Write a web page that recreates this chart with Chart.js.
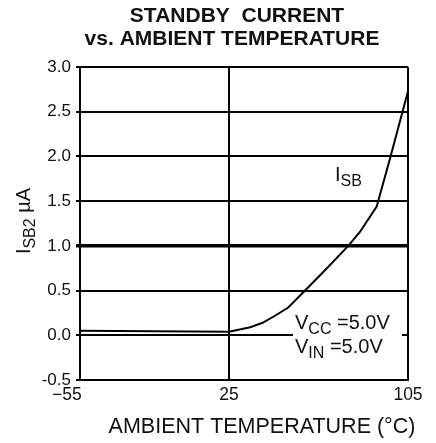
<!DOCTYPE html>
<html>
<head>
<meta charset="utf-8">
<script src="https://cdn.jsdelivr.net/npm/chart.js@4/dist/chart.umd.min.js"></script>
<style>
  html, body { margin: 0; padding: 0; background: #fff; }
  #wrap { width: 436px; height: 443px; }
</style>
</head>
<body>
<div id="wrap"><canvas id="c" width="436" height="443"></canvas></div>
<script>
// ---- data ----
const temperatures = [-55, -15, 25, 34.5, 40, 45, 51.5, 59, 68, 78.3, 83.5, 91, 97, 105];
const isbValues    = [0.05, 0.045, 0.04, 0.09, 0.14, 0.21, 0.31, 0.50, 0.73, 1.00, 1.155, 1.44, 1.98, 2.73];
const xTickValues  = [-55, 25, 105];
const xTickLabels  = ['\u221255\u2003\u2002', '25', '105'];
const yTickValues  = [-0.5, 0, 0.5, 1.0, 1.5, 2.0, 2.5, 3.0];
const titleLines   = ['STANDBY  CURRENT', 'vs. AMBIENT TEMPERATURE'];
const xAxisTitle   = 'AMBIENT TEMPERATURE (\u00B0C)';

// piecewise x scale: -55..25 occupies a smaller share than 25..105 (as in the reference)
const BREAK_VALUE = 25, BREAK_FRAC = 149 / 328;
class PiecewiseScale extends Chart.LinearScale {
  getPixelForValue(v) {
    const a = this.min, b = this.max;
    let d;
    if (v <= BREAK_VALUE) d = (v - a) / (BREAK_VALUE - a) * BREAK_FRAC;
    else d = BREAK_FRAC + (v - BREAK_VALUE) / (b - BREAK_VALUE) * (1 - BREAK_FRAC);
    return this.getPixelForDecimal(d);
  }
  getValueForPixel(p) {
    const d = this.getDecimalForPixel(p);
    const a = this.min, b = this.max;
    if (d <= BREAK_FRAC) return a + d / BREAK_FRAC * (BREAK_VALUE - a);
    return BREAK_VALUE + (d - BREAK_FRAC) / (1 - BREAK_FRAC) * (b - BREAK_VALUE);
  }
}
PiecewiseScale.id = 'piecewise';
PiecewiseScale.defaults = Chart.LinearScale.defaults;
Chart.register(PiecewiseScale);

const FONT = "'Liberation Sans', Arial, sans-serif";

function drawSub(ctx, parts, x, y) {
  let cx = x;
  for (const [t, s, dy] of parts) {
    ctx.font = s + 'px ' + FONT;
    ctx.fillText(t, cx, y + dy);
    cx += ctx.measureText(t).width;
  }
  return cx - x;
}
function measureParts(ctx, parts) {
  let w = 0;
  for (const [t, s] of parts) { ctx.font = s + 'px ' + FONT; w += ctx.measureText(t).width; }
  return w;
}

const annotations = {
  id: 'annotations',
  afterDatasetsDraw(chart) {
    const ctx = chart.ctx;
    ctx.save();
    ctx.fillStyle = '#fff';
    ctx.fillRect(293, 313, 109, 46);
    ctx.fillStyle = '#111';
    ctx.textBaseline = 'alphabetic';
    ctx.textAlign = 'left';
    drawSub(ctx, [['I', 20, 0], ['SB', 16, 5]], 335, 181);
    drawSub(ctx, [['V', 20, 0], ['CC', 16, 5], [' =5.0V', 20, 0]], 295, 329);
    drawSub(ctx, [['V', 20, 0], ['IN', 16, 5], [' =5.0V', 20, 0]], 295, 353);
    ctx.restore();
  },
  afterDraw(chart) {
    const ctx = chart.ctx;
    ctx.save();
    ctx.fillStyle = '#111';
    ctx.textAlign = 'center';
    ctx.textBaseline = 'middle';
    ctx.font = 'bold 21px ' + FONT;
    ctx.fillText(titleLines[0], 237, 16);
    ctx.fillText(titleLines[1], 232, 39);
    ctx.font = '21.5px ' + FONT;
    ctx.fillText(xAxisTitle, 262, 427);
    const parts = [['I', 20, 0], ['SB2', 16, 5], [' \u00B5A', 20, 0]];
    const w = measureParts(ctx, parts);
    ctx.translate(30, 221);
    ctx.rotate(-Math.PI / 2);
    ctx.textAlign = 'left';
    ctx.textBaseline = 'alphabetic';
    drawSub(ctx, parts, -w / 2, 0);
    ctx.restore();
  }
};

new Chart(document.getElementById('c'), {
  type: 'line',
  data: {
    datasets: [{
      data: temperatures.map((t, i) => ({ x: t, y: isbValues[i] })),
      borderColor: '#000',
      borderWidth: 2,
      pointRadius: 0,
      tension: 0,
      fill: false
    }]
  },
  options: {
    responsive: false,
    devicePixelRatio: 1,
    animation: false,
    layout: { padding: { top: 67, right: 28, left: 0, bottom: 0 } },
    plugins: { legend: { display: false }, tooltip: { enabled: false }, title: { display: false } },
    scales: {
      x: {
        type: 'piecewise',
        min: -55, max: 105,
        afterBuildTicks: s => { s.ticks = xTickValues.map(v => ({ value: v })); },
        afterFit: s => { s.height = 63; },
        grid: { color: '#000', lineWidth: 2, drawTicks: false },
        border: { color: '#000', width: 2 },
        ticks: {
          color: '#111', font: { family: FONT, size: 17.5 }, padding: 5, maxRotation: 0, autoSkip: false,
          callback: (v) => { const i = xTickValues.indexOf(v); return i >= 0 ? xTickLabels[i] : ''; }
        }
      },
      y: {
        min: -0.5, max: 3.0,
        afterBuildTicks: s => { s.ticks = yTickValues.map(v => ({ value: v })); },
        afterFit: s => { s.width = 80; },
        grid: {
          color: '#000',
          lineWidth: c => (c.tick && c.tick.value === 1) ? 3.5 : 2,
          tickLength: 4
        },
        border: { color: '#000', width: 2 },
        ticks: {
          color: '#111', font: { family: FONT, size: 17 }, padding: 5,
          callback: v => v.toFixed(1)
        }
      }
    }
  },
  plugins: [annotations]
});
</script>
</body>
</html>
